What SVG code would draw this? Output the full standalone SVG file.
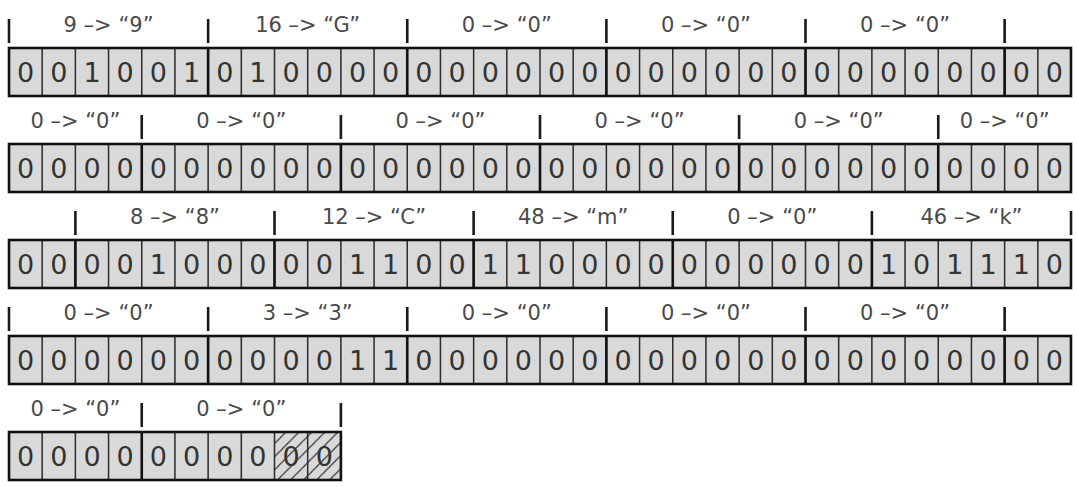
<svg xmlns="http://www.w3.org/2000/svg" xmlns:xlink="http://www.w3.org/1999/xlink" width="1077" height="487" viewBox="0 0 1077 487">
<style>
.bg{fill:#d9d9d9;stroke:none}
.thin{stroke:#2b2b2b;stroke-width:1.5;fill:none}
.thick{stroke:#111;stroke-width:2.6;fill:none}
.frame{fill:none;stroke:#111;stroke-width:2.6}
.tick{stroke:#1a1a1a;stroke-width:2.6;fill:none}
.bit{font-family:"DejaVu Sans",Verdana,sans-serif;font-size:27px;fill:#333;text-anchor:middle}
.lbl{font-family:"DejaVu Sans",Verdana,sans-serif;font-size:21px;fill:#4a4a4a;text-anchor:middle}
</style>
<defs>
<pattern id="hatch" patternUnits="userSpaceOnUse" width="13" height="16" patternTransform="skewX(-10)">
<path d="M0 16L13 0M-3 3.7L3 -3.7M10 19.7L16 12.3" stroke="#222" stroke-width="1.2"/>
</pattern>
<g id="cells32">
<rect class="bg" x="9" y="0" width="1062" height="48"/>
<path class="thin" d="M42.19 0V48M75.38 0V48M108.56 0V48M141.75 0V48M174.94 0V48M208.13 0V48M241.31 0V48M274.5 0V48M307.69 0V48M340.88 0V48M374.06 0V48M407.25 0V48M440.44 0V48M473.63 0V48M506.81 0V48M540 0V48M573.19 0V48M606.38 0V48M639.56 0V48M672.75 0V48M705.94 0V48M739.13 0V48M772.31 0V48M805.5 0V48M838.69 0V48M871.88 0V48M905.06 0V48M938.25 0V48M971.44 0V48M1004.63 0V48M1037.81 0V48"/>
<rect class="frame" x="9" y="0" width="1062" height="48"/>
</g>
</defs>

<g id="row1" transform="translate(0,48)">
<use xlink:href="#cells32"/>
<path class="thick" d="M208.13 0V48M407.25 0V48M606.38 0V48M805.5 0V48M1004.63 0V48"/>
<text class="bit" y="34" x="25.59 58.78 91.97 125.16 158.34 191.53 224.72 257.91 291.09 324.28 357.47 390.66 423.84 457.03 490.22 523.41 556.59 589.78 622.97 656.16 689.34 722.53 755.72 788.91 822.09 855.28 888.47 921.66 954.84 988.03 1021.22 1054.41">00100101000000000000000000000000</text>
</g>

<g id="row2" transform="translate(0,144)">
<use xlink:href="#cells32"/>
<path class="thick" d="M141.75 0V48M340.88 0V48M540 0V48M739.13 0V48M938.25 0V48"/>
<text class="bit" y="34" x="25.59 58.78 91.97 125.16 158.34 191.53 224.72 257.91 291.09 324.28 357.47 390.66 423.84 457.03 490.22 523.41 556.59 589.78 622.97 656.16 689.34 722.53 755.72 788.91 822.09 855.28 888.47 921.66 954.84 988.03 1021.22 1054.41">00000000000000000000000000000000</text>
</g>

<g id="row3" transform="translate(0,240)">
<use xlink:href="#cells32"/>
<path class="thick" d="M75.38 0V48M274.5 0V48M473.63 0V48M672.75 0V48M871.88 0V48"/>
<text class="bit" y="34" x="25.59 58.78 91.97 125.16 158.34 191.53 224.72 257.91 291.09 324.28 357.47 390.66 423.84 457.03 490.22 523.41 556.59 589.78 622.97 656.16 689.34 722.53 755.72 788.91 822.09 855.28 888.47 921.66 954.84 988.03 1021.22 1054.41">00001000001100110000000000101110</text>
</g>

<g id="row4" transform="translate(0,336)">
<use xlink:href="#cells32"/>
<path class="thick" d="M208.13 0V48M407.25 0V48M606.38 0V48M805.5 0V48M1004.63 0V48"/>
<text class="bit" y="34" x="25.59 58.78 91.97 125.16 158.34 191.53 224.72 257.91 291.09 324.28 357.47 390.66 423.84 457.03 490.22 523.41 556.59 589.78 622.97 656.16 689.34 722.53 755.72 788.91 822.09 855.28 888.47 921.66 954.84 988.03 1021.22 1054.41">00000000001100000000000000000000</text>
</g>

<g id="row5" transform="translate(0,432)">
<rect class="bg" x="9" y="0" width="331.88" height="48"/>
<rect x="274.5" y="0" width="66.38" height="48" fill="url(#hatch)"/>
<path class="thin" d="M42.19 0V48M75.38 0V48M108.56 0V48M174.94 0V48M208.13 0V48M241.31 0V48M274.5 0V48M307.69 0V48"/>
<path class="thick" d="M141.75 0V48"/>
<rect class="frame" x="9" y="0" width="331.88" height="48"/>
<text class="bit" y="34" x="25.59 58.78 91.97 125.16 158.34 191.53 224.72 257.91 291.09 324.28">0000000000</text>
</g>

<g id="labels">
<g transform="translate(0,48)">
<path class="tick" d="M9 -29V-5M208.13 -29V-5M407.25 -29V-5M606.38 -29V-5M805.5 -29V-5M1004.63 -29V-5"/>
<text class="lbl" y="-16" x="108.56">9 –&gt; “9”</text>
<text class="lbl" y="-16" x="307.69">16 –&gt; “G”</text>
<text class="lbl" y="-16" x="506.81">0 –&gt; “0”</text>
<text class="lbl" y="-16" x="705.94">0 –&gt; “0”</text>
<text class="lbl" y="-16" x="905.06">0 –&gt; “0”</text>
</g>
<g transform="translate(0,144)">
<path class="tick" d="M141.75 -29V-5M340.88 -29V-5M540 -29V-5M739.13 -29V-5M938.25 -29V-5"/>
<text class="lbl" y="-16" x="75.38">0 –&gt; “0”</text>
<text class="lbl" y="-16" x="241.31">0 –&gt; “0”</text>
<text class="lbl" y="-16" x="440.44">0 –&gt; “0”</text>
<text class="lbl" y="-16" x="639.56">0 –&gt; “0”</text>
<text class="lbl" y="-16" x="838.69">0 –&gt; “0”</text>
<text class="lbl" y="-16" x="1004.63">0 –&gt; “0”</text>
</g>
<g transform="translate(0,240)">
<path class="tick" d="M75.38 -29V-5M274.5 -29V-5M473.63 -29V-5M672.75 -29V-5M871.88 -29V-5M1071 -29V-5"/>
<text class="lbl" y="-16" x="174.94">8 –&gt; “8”</text>
<text class="lbl" y="-16" x="374.06">12 –&gt; “C”</text>
<text class="lbl" y="-16" x="573.19">48 –&gt; “m”</text>
<text class="lbl" y="-16" x="772.31">0 –&gt; “0”</text>
<text class="lbl" y="-16" x="971.44">46 –&gt; “k”</text>
</g>
<g transform="translate(0,336)">
<path class="tick" d="M9 -29V-5M208.13 -29V-5M407.25 -29V-5M606.38 -29V-5M805.5 -29V-5M1004.63 -29V-5"/>
<text class="lbl" y="-16" x="108.56">0 –&gt; “0”</text>
<text class="lbl" y="-16" x="307.69">3 –&gt; “3”</text>
<text class="lbl" y="-16" x="506.81">0 –&gt; “0”</text>
<text class="lbl" y="-16" x="705.94">0 –&gt; “0”</text>
<text class="lbl" y="-16" x="905.06">0 –&gt; “0”</text>
</g>
<g transform="translate(0,432)">
<path class="tick" d="M141.75 -29V-5M340.88 -29V-5"/>
<text class="lbl" y="-16" x="75.38">0 –&gt; “0”</text>
<text class="lbl" y="-16" x="241.31">0 –&gt; “0”</text>
</g>
</g>
</svg>
